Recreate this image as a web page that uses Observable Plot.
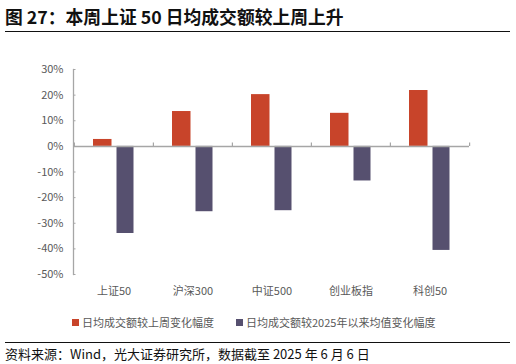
<!DOCTYPE html>
<html>
<head>
<meta charset="utf-8">
<script src="https://cdn.jsdelivr.net/npm/d3@7"></script>
<script src="https://cdn.jsdelivr.net/npm/@observablehq/plot@0.6"></script>
<style>
  body { margin: 0; background: #fff; }
  #wrap { position: relative; width: 516px; height: 364px; font-family: "Noto Sans CJK SC", sans-serif; overflow: hidden; }
  #title { position: absolute; left: 5px; top: 5px; font-size: 17.8px; font-weight: bold; line-height: 22px; color: #111; white-space: nowrap; }
  .hr { position: absolute; left: 5px; width: 505px; height: 1.4px; background: #111; }
  #chart { position: absolute; left: 0; top: 32px; }
  #legend { position: absolute; left: 72px; top: 314px; display: flex; align-items: center; font-size: 11px; color: #595959; line-height: 16px; white-space: nowrap; }
  .item { display: flex; align-items: center; }
  .sw { width: 7px; height: 7px; margin-right: 3px; }
  #source { position: absolute; left: 5px; top: 345px; font-size: 13px; line-height: 18px; color: #111; white-space: nowrap; }
</style>
</head>
<body>
<div id="wrap">
  <div id="title"></div>
  <div class="hr" style="top:31px"></div>
  <div id="chart"></div>
  <div id="legend"></div>
  <div class="hr" style="top:342px"></div>
  <div id="source"></div>
</div>
<script>
const titleText = "图 27：本周上证 50 日均成交额较上周上升";
const sourceText = "资料来源：Wind，光大证券研究所，数据截至 2025 年 6 月 6 日";
const categories = ["上证50", "沪深300", "中证500", "创业板指", "科创50"];
const seriesNames = ["日均成交额较上周变化幅度", "日均成交额较2025年以来均值变化幅度"];
const weekChange = [2.7, 13.6, 20.2, 12.9, 21.8];
const ytdChange = [-34.0, -25.5, -25.1, -13.5, -40.6];
const yTicks = [30, 20, 10, 0, -10, -20, -30, -40, -50];
const colors = ["#C8442A", "#56506F"];

document.getElementById("title").textContent = titleText;
document.getElementById("source").textContent = sourceText;

const legend = document.getElementById("legend");
seriesNames.forEach((name, i) => {
  const it = document.createElement("div");
  it.className = "item";
  if (i > 0) it.style.marginLeft = "22px";
  const sw = document.createElement("div");
  sw.className = "sw";
  sw.style.background = colors[i];
  const tx = document.createElement("span");
  tx.textContent = name;
  it.appendChild(sw); it.appendChild(tx);
  legend.appendChild(it);
});

const W = 516, H = 275, ML = 73, MR = 47, MT = 37, MB = 33;
const bw = (W - ML - MR) / categories.length;

const weekData = categories.map((c, i) => ({cat: c, value: weekChange[i]}));
const ytdData = categories.map((c, i) => ({cat: c, value: ytdChange[i]}));
const boundaries = categories.map((c, i) => ({cat: c, side: -1})).concat([{cat: categories[categories.length - 1], side: 1}]);

const plot = Plot.plot({
  width: W,
  height: H,
  marginLeft: ML,
  marginRight: MR,
  marginTop: MT,
  marginBottom: MB,
  style: {fontFamily: "'Noto Sans CJK SC', sans-serif", fontSize: "11px", color: "#595959", background: "#fff"},
  x: {domain: categories, padding: 0, label: null},
  y: {domain: [-50, 30], label: null},
  marks: [
    Plot.barY(weekData, {x: "cat", y: "value", fill: colors[0], insetLeft: 19, insetRight: 41.5}),
    Plot.barY(ytdData, {x: "cat", y: "value", fill: colors[1], insetLeft: 42.5, insetRight: 19.5}),
    Plot.frame({anchor: "left", stroke: "#A6A6A6", strokeWidth: 1.3}),
    Plot.ruleY([0], {stroke: "#A6A6A6", strokeWidth: 1.5}),
    Plot.ruleX(boundaries.filter(d => d.side < 0), {x: "cat", y1: 0, y2: 1.3, stroke: "#A6A6A6", strokeWidth: 1.2, dx: -bw / 2}),
    Plot.ruleX(boundaries.filter(d => d.side > 0), {x: "cat", y1: 0, y2: 1.3, stroke: "#A6A6A6", strokeWidth: 1.2, dx: bw / 2}),
    Plot.axisY({ticks: yTicks, tickFormat: () => "", tickSize: -2.5, stroke: "#A6A6A6"}),
    Plot.axisY({ticks: yTicks, tickFormat: d => d + "%", tickSize: 0, tickPadding: 10, fill: "#595959", fontSize: 11}),
    Plot.axisX({tickSize: 0, tickPadding: 13, fill: "#595959", fontSize: 11})
  ]
});
document.getElementById("chart").appendChild(plot);
</script>
</body>
</html>
